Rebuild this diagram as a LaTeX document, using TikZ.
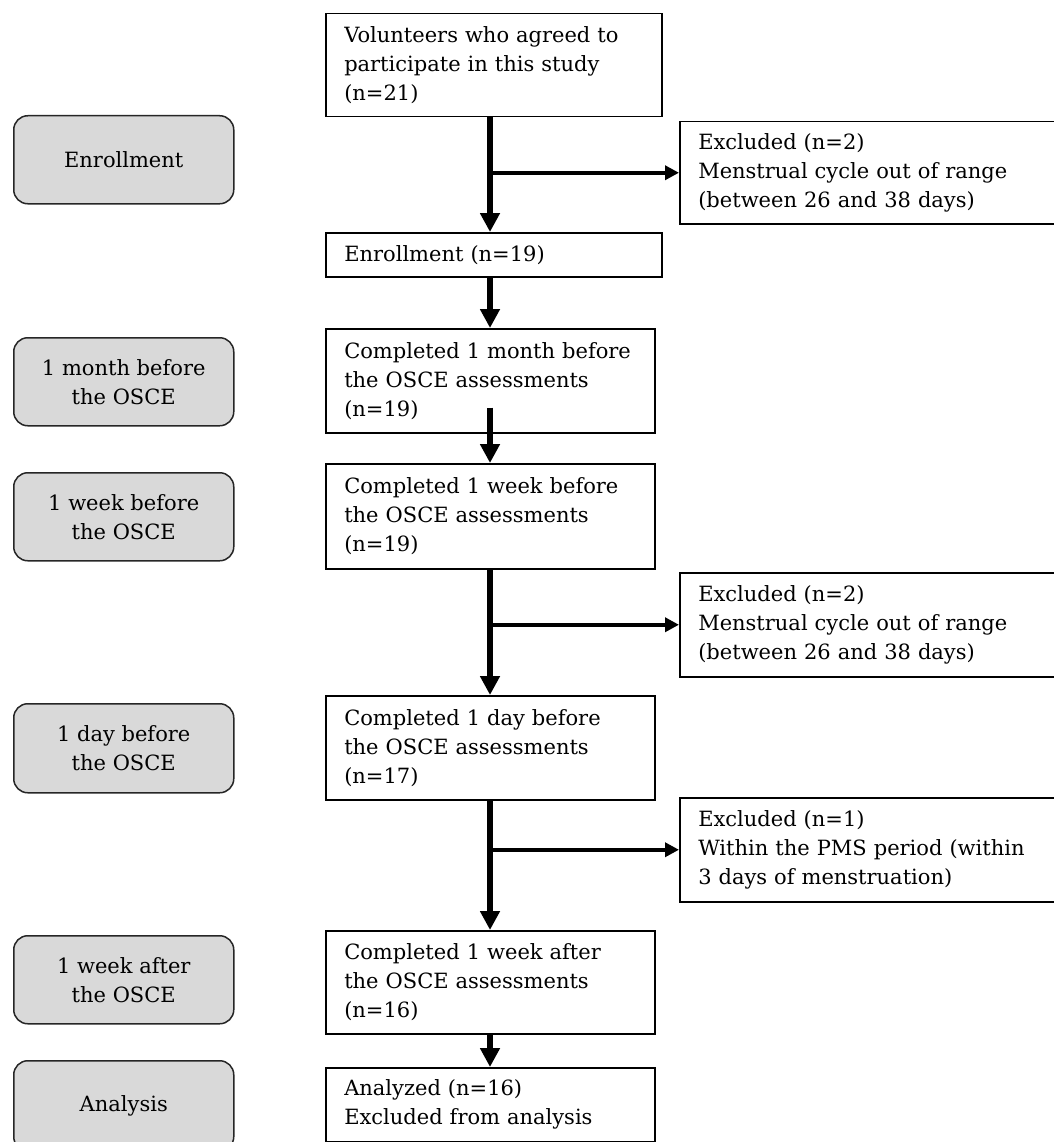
\documentclass[tikz,border=0pt]{standalone}
\usepackage{fontspec}
\setmainfont{DejaVu Serif}
\usetikzlibrary{arrows.meta,calc}
\tikzset{
  boxfont/.style={font=\fontsize{21}{29}\selectfont},
  mainbox/.style={boxfont, draw=black, line width=1.5pt, fill=white, anchor=north west,
    inner xsep=18pt, inner ysep=4pt, align=left},
  phasebox/.style={boxfont, draw=black!85, line width=1.5pt, fill=black!15, anchor=north west,
    rounded corners=14pt, align=center, minimum width=220pt},
  varrow/.style={line width=6pt, -{Triangle[width=19pt,length=19pt]}},
  harrow/.style={line width=4pt, -{Triangle[width=14pt,length=14pt]}}
}
\begin{document}
\begin{tikzpicture}[x=1pt,y=-1pt]
\useasboundingbox (0,0) rectangle (1053,1142);
\fill[white] (0,0) rectangle (1053,1142);

% phase boxes (left)
\node[phasebox, minimum height=88pt] (pEnr) at (13,115) {Enrollment};
\node[phasebox, minimum height=88pt] (pM1) at (13,337) {1 month before\\the OSCE};
\node[phasebox, minimum height=88pt] (pW1) at (13,472) {1 week before\\the OSCE};
\node[phasebox, minimum height=89pt] (pD1) at (13,703) {1 day before\\the OSCE};
\node[phasebox, minimum height=88pt] (pWa) at (13,935) {1 week after\\the OSCE};
\node[phasebox, minimum height=90pt] (pAn) at (13,1060) {Analysis};

% main column
\node[mainbox, minimum width=336pt, minimum height=103pt, text width=299pt] (vol) at (325,13)
  {Volunteers who agreed to\\participate in this study\\(n=21)};
\node[mainbox, minimum width=336pt, minimum height=44pt, text width=299pt] (enr) at (325,232)
  {Enrollment (n=19)};
\node[mainbox, minimum width=329pt, minimum height=104pt, text width=292pt] (m1) at (325,328)
  {Completed 1 month before\\the OSCE assessments\\(n=19)};
\node[mainbox, minimum width=329pt, minimum height=105pt, text width=292pt] (w1) at (325,463)
  {Completed 1 week before\\the OSCE assessments\\(n=19)};
\node[mainbox, minimum width=329pt, minimum height=104pt, text width=292pt] (d1) at (325,695)
  {Completed 1 day before\\the OSCE assessments\\(n=17)};
\node[mainbox, minimum width=329pt, minimum height=103pt, text width=292pt] (wa) at (325,930)
  {Completed 1 week after\\the OSCE assessments\\(n=16)};
\node[mainbox, minimum width=329pt, minimum height=74pt, text width=292pt] (an) at (325,1067)
  {Analyzed (n=16)\\Excluded from analysis};

% excluded boxes (right)
\node[mainbox, minimum width=385pt, minimum height=102pt, text width=348pt] (ex1) at (679,121)
  {Excluded (n=2)\\Menstrual cycle out of range\\(between 26 and 38 days)};
\node[mainbox, minimum width=385pt, minimum height=104pt, text width=348pt] (ex2) at (679,572)
  {Excluded (n=2)\\Menstrual cycle out of range\\(between 26 and 38 days)};
\node[mainbox, minimum width=385pt, minimum height=104pt, text width=348pt] (ex3) at (679,797)
  {Excluded (n=1)\\Within the PMS period (within\\3 days of menstruation)};

% connectors
\coordinate (col) at (490,0);
\draw[varrow] (vol.south -| col) -- (enr.north -| col);
\draw[harrow] (col |- ex1.west) -- (ex1.west);
\draw[varrow] (enr.south -| col) -- (m1.north -| col);
\draw[varrow] ($(m1.south -| col)+(0,-26)$) -- (w1.north -| col);
\draw[varrow] (w1.south -| col) -- (d1.north -| col);
\draw[harrow] (col |- ex2.west) -- (ex2.west);
\draw[varrow] (d1.south -| col) -- (wa.north -| col);
\draw[harrow] (col |- ex3.west) -- (ex3.west);
\draw[varrow] (wa.south -| col) -- (an.north -| col);
\end{tikzpicture}
\end{document}
